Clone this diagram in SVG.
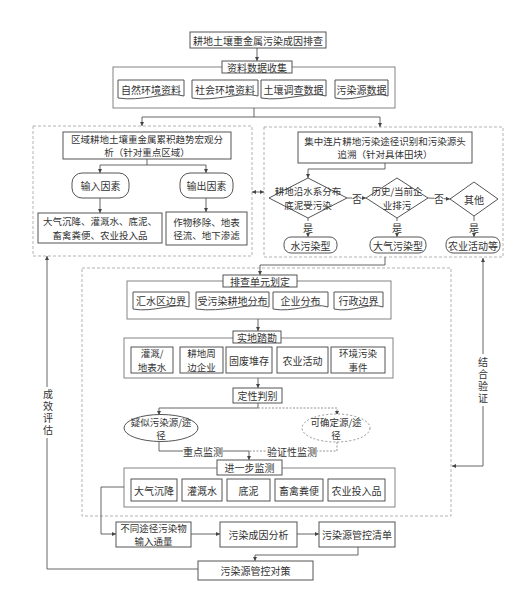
<svg xmlns="http://www.w3.org/2000/svg" width="531" height="599" viewBox="0 0 531 599">
<style>
text{font-family:"Noto Sans CJK SC","Noto Sans",sans-serif;font-size:10px;fill:#333;text-anchor:middle;dominant-baseline:central}
text.m{font-size:9.5px}
text.v{writing-mode:vertical-rl;letter-spacing:2px}
.b{fill:#fff;stroke:#555;stroke-width:1}
.c{fill:none;stroke:#777;stroke-width:0.9}
.d{fill:none;stroke:#aaa;stroke-width:0.9;stroke-dasharray:3,2}
.dt{fill:#fff;stroke:#888;stroke-width:0.9;stroke-dasharray:2,2}
.l{fill:none;stroke:#555;stroke-width:0.9}
.ld{fill:none;stroke:#888;stroke-width:0.9;stroke-dasharray:2,1.5}
.a{marker-end:url(#ah)}
.bg{fill:#fff;stroke:none}
</style>
<defs>
<marker id="ah" viewBox="0 0 6 6" refX="6" refY="3" markerWidth="4.5" markerHeight="4.5" orient="auto-start-reverse"><path d="M0,0 L6,3 L0,6 Z" fill="#444"/></marker>
</defs>
<rect width="531" height="599" fill="#fff"/>

<g id="containers">
<rect class="c" x="113" y="67" width="282" height="41"/>
<rect class="d" x="33" y="126" width="219" height="130"/>
<rect class="d" x="264" y="127" width="239" height="130"/>
<rect class="d" x="82" y="268" width="369" height="248"/>
<rect class="c" x="127" y="281" width="264" height="38"/>
<rect class="c" x="124" y="338" width="269" height="40"/>
<rect class="c" x="124" y="468" width="271" height="39"/>
</g>

<g id="connectors">
<line class="l a" x1="257" y1="48" x2="257" y2="61"/>
<polyline class="l" points="254,108 254,117"/>
<line class="l" x1="142" y1="117" x2="380" y2="117"/>
<line class="l a" x1="142" y1="117" x2="142" y2="126"/>
<line class="l a" x1="380" y1="117" x2="380" y2="127"/>
<polyline class="l" points="147,159 147,165"/>
<line class="l" x1="100" y1="165" x2="206" y2="165"/>
<line class="l a" x1="100" y1="165" x2="100" y2="173"/>
<line class="l a" x1="206" y1="165" x2="206" y2="173"/>
<line class="l a" x1="100" y1="198" x2="100" y2="213"/>
<line class="l a" x1="206" y1="198" x2="206" y2="212"/>
<line class="l" x1="252" y1="192" x2="264" y2="192" marker-start="url(#ah)" marker-end="url(#ah)"/>
<polyline class="l a" points="385,163 385,169 308,169 308,178"/>
<line class="l a" x1="347" y1="198" x2="366" y2="198"/>
<line class="l a" x1="428" y1="198" x2="450" y2="199"/>
<line class="l a" x1="308" y1="218" x2="308" y2="237"/>
<line class="l a" x1="397" y1="218" x2="397" y2="237"/>
<line class="l a" x1="474" y1="216" x2="474" y2="237"/>
<polyline class="l a" points="385,257 385,265 260,265 260,275"/>
<line class="l a" x1="258" y1="319" x2="258" y2="331"/>
<line class="l a" x1="258" y1="378" x2="258" y2="388"/>
<polyline class="l" points="258,403 258,408"/>
<polyline class="l a" points="258,408 159,408 159,415"/>
<polyline class="ld a" points="258,408 337,408 337,415"/>
<polyline class="l" points="159,442 159,451 249,451"/>
<polyline class="ld" points="337,442 337,451 249,451"/>
<line class="l a" x1="249" y1="451" x2="249" y2="460"/>
<polyline class="l a" points="124,487 101,487 101,534 116,534"/>
<line class="l a" x1="191" y1="534" x2="220" y2="534"/>
<line class="l a" x1="297" y1="534" x2="319" y2="534"/>
<polyline class="l a" points="358,547 358,555 255,555 255,561"/>
<polyline class="l a" points="198,569 47,569 47,256"/>
<polyline class="l a" points="452,466 483,466 483,258" marker-start="url(#ah)"/>
<rect class="bg" x="352" y="192" width="10" height="12"/>
<rect class="bg" x="434" y="192" width="10" height="12"/>
<rect class="bg" x="302" y="221" width="12" height="12"/>
<rect class="bg" x="391" y="221" width="12" height="12"/>
<rect class="bg" x="468" y="221" width="12" height="12"/>
<rect class="bg" x="183" y="445" width="40" height="12"/>
<rect class="bg" x="267" y="445" width="50" height="12"/>
<rect class="bg" x="41" y="387" width="13" height="51"/>
<rect class="bg" x="477" y="354" width="13" height="52"/>
<text x="357" y="198">否</text>
<text x="439" y="198">否</text>
<text x="308" y="227">是</text>
<text x="397" y="227">是</text>
<text x="474" y="227">是</text>
<text x="203" y="451">重点监测</text>
<text x="292" y="451">验证性监测</text>
<text class="v" x="48" y="413">成效评估</text>
<text class="v" x="483" y="381">结合验证</text>
</g>

<g id="n-top"><rect class="b" x="190" y="32" width="136" height="16"/><text x="258" y="40">耕地土壤重金属污染成因排查</text></g>
<g id="n-collect"><rect class="b" x="222" y="61" width="70" height="12"/><text x="257" y="67">资料数据收集</text></g>
<g id="n-doc1"><path class="b" d="M118,80 H184 V96 C167.5,91 141,102 118,98 Z"/><text x="151" y="89">自然环境资料</text></g>
<g id="n-doc2"><path class="b" d="M192,80 H258 V96 C241.5,91 215,102 192,98 Z"/><text x="225" y="89">社会环境资料</text></g>
<g id="n-doc3"><path class="b" d="M261,80 H326 V96 C309.75,91 283.75,102 261,98 Z"/><text x="293.5" y="89">土壤调查数据</text></g>
<g id="n-doc4"><path class="b" d="M335,80 H388 V96 C374.75,91 353.55,102 335,98 Z"/><text x="361.5" y="89">污染源数据</text></g>

<g id="n-macro"><rect class="b" x="63" y="132" width="168" height="27"/><text class="m" x="147" y="138.6">区域耕地土壤重金属累积趋势宏观分<tspan x="147" dy="13.8">析（针对重点区域）</tspan></text></g>
<g id="n-in"><rect class="b" x="72" y="173" width="57" height="25" rx="10"/><text x="100.5" y="185.5">输入因素</text></g>
<g id="n-out"><rect class="b" x="180" y="173" width="53" height="25" rx="10"/><text x="206.5" y="185.5">输出因素</text></g>
<g id="n-inlist"><rect class="b" x="38" y="213" width="124" height="30"/><text class="m" x="100" y="221.1">大气沉降、灌溉水、底泥、<tspan x="100" dy="13.8">畜禽粪便、农业投入品</tspan></text></g>
<g id="n-outlist"><rect class="b" x="166" y="212" width="81" height="33"/><text class="m" x="206.5" y="221.6">作物移除、地表<tspan x="206.5" dy="13.8">径流、地下渗滤</tspan></text></g>

<g id="n-trace"><rect class="b" x="298" y="132" width="174" height="31"/><text class="m" x="385" y="140.6">集中连片耕地污染途径识别和污染源头<tspan x="385" dy="13.8">追溯（针对具体田块）</tspan></text></g>
<g id="n-dia1"><polygon class="b" points="269,198 308,178 347,198 308,218"/><text class="m" x="308" y="191.1">耕地沿水系分布<tspan x="308" dy="13.8">底泥受污染</tspan></text></g>
<g id="n-dia2"><polygon class="b" points="366,198 397,178 428,198 397,218"/><text class="m" x="397" y="191.1">历史/当前企<tspan x="397" dy="13.8">业排污</tspan></text></g>
<g id="n-dia3"><polygon class="b" points="450,199 474,182 498,199 474,216"/><text x="474" y="199">其他</text></g>
<g id="n-water"><rect class="b" x="284" y="237" width="53" height="16" rx="7"/><text x="310.5" y="245">水污染型</text></g>
<g id="n-air"><rect class="b" x="370" y="237" width="56" height="16" rx="7"/><text x="398" y="245">大气污染型</text></g>
<g id="n-agri"><rect class="b" x="446" y="237" width="54" height="16" rx="7"/><text x="473" y="245">农业活动等</text></g>

<g id="n-unit"><rect class="b" x="223" y="275" width="74" height="12"/><text x="260" y="281">排查单元划定</text></g>
<g id="n-u1"><path class="b" d="M133,292 H189 V307 C175,302 152.6,313 133,309 Z"/><text x="161" y="300">汇水区边界</text></g>
<g id="n-u2"><path class="b" d="M196,292 H269 V307 C250.75,302 221.55,313 196,309 Z"/><text x="232.5" y="300">受污染耕地分布</text></g>
<g id="n-u3"><path class="b" d="M273,292 H328 V307 C314.25,302 292.25,313 273,309 Z"/><text x="300.5" y="300">企业分布</text></g>
<g id="n-u4"><path class="b" d="M334,292 H383 V307 C370.75,302 351.15,313 334,309 Z"/><text x="358.5" y="300">行政边界</text></g>

<g id="n-survey"><rect class="b" x="233" y="331" width="48" height="12"/><text x="257" y="337">实地踏勘</text></g>
<g id="n-s1"><rect class="b" x="131" y="347" width="42" height="26"/><text class="m" x="152" y="353.1">灌溉/<tspan x="152" dy="13.8">地表水</tspan></text></g>
<g id="n-s2"><rect class="b" x="180" y="347" width="43" height="26"/><text class="m" x="201.5" y="353.1">耕地周<tspan x="201.5" dy="13.8">边企业</tspan></text></g>
<g id="n-s3"><rect class="b" x="226" y="347" width="46" height="26"/><text x="249" y="360">固废堆存</text></g>
<g id="n-s4"><rect class="b" x="277" y="347" width="51" height="26"/><text x="302.5" y="360">农业活动</text></g>
<g id="n-s5"><rect class="b" x="331" y="347" width="54" height="26"/><text class="m" x="358" y="353.1">环境污染<tspan x="358" dy="13.8">事件</tspan></text></g>

<g id="n-judge"><rect class="b" x="233" y="388" width="49" height="15"/><text x="257.5" y="395.5">定性判别</text></g>
<g id="n-suspect"><ellipse class="b" cx="161" cy="428" rx="37" ry="13.5"/><text class="m" x="161" y="421.6">疑似污染源/途<tspan x="161" dy="13.8">径</tspan></text></g>
<g id="n-sure"><ellipse class="dt" cx="336" cy="428" rx="34" ry="14"/><text class="m" x="336" y="421.6">可确定源/途<tspan x="336" dy="13.8">径</tspan></text></g>

<g id="n-monitor"><rect class="b" x="217" y="460" width="65" height="15"/><text x="249.5" y="467.5">进一步监测</text></g>
<g id="n-m1"><rect class="b" x="131" y="479" width="46" height="22"/><text x="154" y="490">大气沉降</text></g>
<g id="n-m2"><rect class="b" x="182" y="479" width="40" height="22"/><text x="202" y="490">灌溉水</text></g>
<g id="n-m3"><rect class="b" x="227" y="479" width="43" height="22"/><text x="248.5" y="490">底泥</text></g>
<g id="n-m4"><rect class="b" x="275" y="479" width="48" height="22"/><text x="299" y="490">畜禽粪便</text></g>
<g id="n-m5"><rect class="b" x="328" y="479" width="57" height="22"/><text x="356.5" y="490">农业投入品</text></g>

<g id="n-flux"><rect class="b" x="116" y="522" width="75" height="25"/><text class="m" x="153.5" y="527.6">不同途径污染物<tspan x="153.5" dy="13.8">输入通量</tspan></text></g>
<g id="n-cause"><rect class="b" x="220" y="522" width="77" height="25"/><text x="258.5" y="534.5">污染成因分析</text></g>
<g id="n-list"><rect class="b" x="319" y="522" width="76" height="25"/><text x="357" y="534.5">污染源管控清单</text></g>
<g id="n-measure"><rect class="b" x="198" y="561" width="115" height="19"/><text x="255.5" y="570.5">污染源管控对策</text></g>
</svg>
